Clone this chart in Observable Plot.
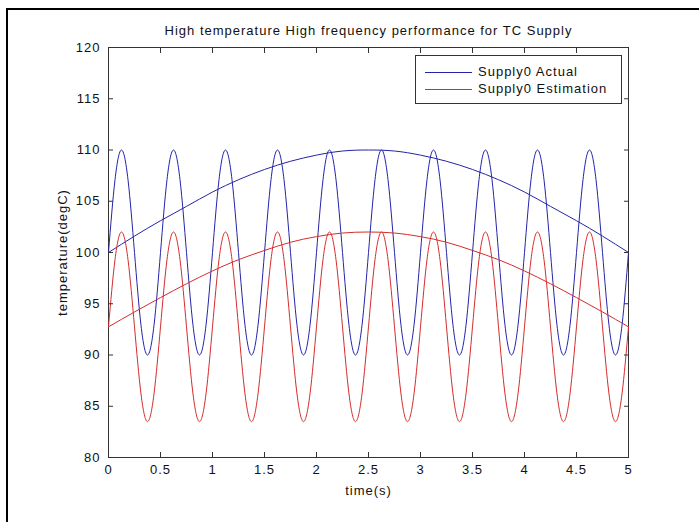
<!DOCTYPE html>
<html>
<head>
<meta charset="utf-8">
<script src="https://cdn.jsdelivr.net/npm/d3@7"></script>
<script src="https://cdn.jsdelivr.net/npm/@observablehq/plot@0.6"></script>
<style>
  html, body { margin: 0; padding: 0; background: #fff; overflow: hidden; }
  #wrap { position: relative; width: 699px; height: 522px; font-family: "Liberation Sans", Arial, sans-serif; }
  #chart text { letter-spacing: 1px; }
  #border { position: absolute; left: 6px; top: 8px; width: 720px; height: 540px; border: 2px solid #000; pointer-events: none; }
  #legend { position: absolute; left: 415px; top: 55px; width: 207px; height: 49px; box-sizing: border-box; border: 1px solid #333; background: #fff; }
  .lg { position: absolute; left: 0; height: 16px; width: 207px; font-size: 13px; color: #111; }
  .lg span.ln { position: absolute; left: 9px; top: 8px; width: 47px; height: 0; border-top: 1px solid; }
  .lg span.tx { position: absolute; left: 62px; top: 0; line-height: 16px; letter-spacing: 1px; }
</style>
</head>
<body>
<div id="wrap">
  <div id="chart"></div>
  <div id="legend"></div>
  <div id="border"></div>
</div>
<script>
const title = "High temperature High frequency performance for TC Supply";
const xLabel = "time(s)";
const yLabel = "temperature(degC)";
const seriesNames = ["Supply0 Actual", "Supply0 Estimation"];
const seriesColors = ["#2424a8", "#d42c2c"];

const xTicks = [0, 0.5, 1, 1.5, 2, 2.5, 3, 3.5, 4, 4.5, 5];
const yTicks = [80, 85, 90, 95, 100, 105, 110, 115, 120];

// fast oscillation sample times (every 0.0625 s)
const tFast = [
  0, 0.0625, 0.125, 0.1875, 0.25, 0.3125, 0.375, 0.4375,
  0.5, 0.5625, 0.625, 0.6875, 0.75, 0.8125, 0.875, 0.9375,
  1, 1.0625, 1.125, 1.1875, 1.25, 1.3125, 1.375, 1.4375,
  1.5, 1.5625, 1.625, 1.6875, 1.75, 1.8125, 1.875, 1.9375,
  2, 2.0625, 2.125, 2.1875, 2.25, 2.3125, 2.375, 2.4375,
  2.5, 2.5625, 2.625, 2.6875, 2.75, 2.8125, 2.875, 2.9375,
  3, 3.0625, 3.125, 3.1875, 3.25, 3.3125, 3.375, 3.4375,
  3.5, 3.5625, 3.625, 3.6875, 3.75, 3.8125, 3.875, 3.9375,
  4, 4.0625, 4.125, 4.1875, 4.25, 4.3125, 4.375, 4.4375,
  4.5, 4.5625, 4.625, 4.6875, 4.75, 4.8125, 4.875, 4.9375,
  5
];
const actualFast = [
  100, 107.1, 110, 107.1, 100, 92.9, 90, 92.9,
  100, 107.1, 110, 107.1, 100, 92.9, 90, 92.9,
  100, 107.1, 110, 107.1, 100, 92.9, 90, 92.9,
  100, 107.1, 110, 107.1, 100, 92.9, 90, 92.9,
  100, 107.1, 110, 107.1, 100, 92.9, 90, 92.9,
  100, 107.1, 110, 107.1, 100, 92.9, 90, 92.9,
  100, 107.1, 110, 107.1, 100, 92.9, 90, 92.9,
  100, 107.1, 110, 107.1, 100, 92.9, 90, 92.9,
  100, 107.1, 110, 107.1, 100, 92.9, 90, 92.9,
  100, 107.1, 110, 107.1, 100, 92.9, 90, 92.9,
  100
];
const estimationFast = [
  92.75, 99.3, 102, 99.3, 92.75, 86.2, 83.5, 86.2,
  92.75, 99.3, 102, 99.3, 92.75, 86.2, 83.5, 86.2,
  92.75, 99.3, 102, 99.3, 92.75, 86.2, 83.5, 86.2,
  92.75, 99.3, 102, 99.3, 92.75, 86.2, 83.5, 86.2,
  92.75, 99.3, 102, 99.3, 92.75, 86.2, 83.5, 86.2,
  92.75, 99.3, 102, 99.3, 92.75, 86.2, 83.5, 86.2,
  92.75, 99.3, 102, 99.3, 92.75, 86.2, 83.5, 86.2,
  92.75, 99.3, 102, 99.3, 92.75, 86.2, 83.5, 86.2,
  92.75, 99.3, 102, 99.3, 92.75, 86.2, 83.5, 86.2,
  92.75, 99.3, 102, 99.3, 92.75, 86.2, 83.5, 86.2,
  92.75
];

// slow arc sample times (every 0.25 s)
const tSlow = [0, 0.25, 0.5, 0.75, 1, 1.25, 1.5, 1.75, 2, 2.25, 2.5,
               2.75, 3, 3.25, 3.5, 3.75, 4, 4.25, 4.5, 4.75, 5];
const actualSlow = [100, 101.6, 103.1, 104.5, 105.9, 107.1, 108.1, 108.9, 109.5, 109.9, 110,
                    109.9, 109.5, 108.9, 108.1, 107.1, 105.9, 104.5, 103.1, 101.6, 100];
const estimationSlow = [92.75, 94.2, 95.6, 96.95, 98.2, 99.3, 100.2, 101.0, 101.55, 101.9, 102,
                        101.9, 101.55, 101.0, 100.2, 99.3, 98.2, 96.95, 95.6, 94.2, 92.75];

const rows = (ts, vs, series, part) => ts.map((t, i) => ({t, v: vs[i], series, part}));
const data = [
  ...rows(tFast, actualFast, seriesNames[0], "fast"),
  ...rows(tSlow, actualSlow, seriesNames[0], "slow"),
  ...rows(tFast, estimationFast, seriesNames[1], "fast"),
  ...rows(tSlow, estimationSlow, seriesNames[1], "slow")
];

const font = "'Liberation Sans', Arial, sans-serif";
const fmt = d => String(d);
const chart = Plot.plot({
  width: 699,
  height: 522,
  marginLeft: 108,
  marginRight: 71,
  marginTop: 47,
  marginBottom: 65,
  style: {fontFamily: font, fontSize: "13px", color: "#111", background: "transparent"},
  x: {domain: [0, 5], ticks: xTicks},
  y: {domain: [80, 120], ticks: yTicks},
  color: {domain: seriesNames, range: seriesColors},
  marks: [
    Plot.frame({stroke: "#333", strokeWidth: 1}),
    Plot.line(data, {x: "t", y: "v", z: d => d.series + d.part, stroke: "series", strokeWidth: 1, curve: "natural"}),
    Plot.axisX(xTicks, {anchor: "bottom", tickSize: -5, tickPadding: 12, tickFormat: fmt, label: null, stroke: "#333", fill: "#111", fontSize: 13}),
    Plot.axisX(xTicks, {anchor: "top", tickSize: -5, tickFormat: () => "", label: null, stroke: "#333"}),
    Plot.axisY(yTicks, {anchor: "left", tickSize: -5, tickPadding: 13, tickFormat: fmt, label: null, stroke: "#333", fill: "#111", fontSize: 13}),
    Plot.axisY(yTicks, {anchor: "right", tickSize: -5, tickFormat: () => "", label: null, stroke: "#333"}),
    Plot.text([title], {frameAnchor: "top", dy: -13, text: d => d, fontSize: 13, fill: "#111", lineAnchor: "bottom"}),
    Plot.text([xLabel], {frameAnchor: "bottom", dy: 28, text: d => d, fontSize: 13, fill: "#111", lineAnchor: "top"}),
    Plot.text([yLabel], {frameAnchor: "left", dx: -46, rotate: -90, textAnchor: "middle", text: d => d, fontSize: 13, fill: "#111"})
  ]
});
document.getElementById("chart").appendChild(chart);

const legend = document.getElementById("legend");
seriesNames.forEach((name, i) => {
  const row = document.createElement("div");
  row.className = "lg";
  row.style.top = (8 + i * 17) + "px";
  row.innerHTML = `<span class="ln" style="border-color:${seriesColors[i]}"></span><span class="tx">${name}</span>`;
  legend.appendChild(row);
});
</script>
</body>
</html>
